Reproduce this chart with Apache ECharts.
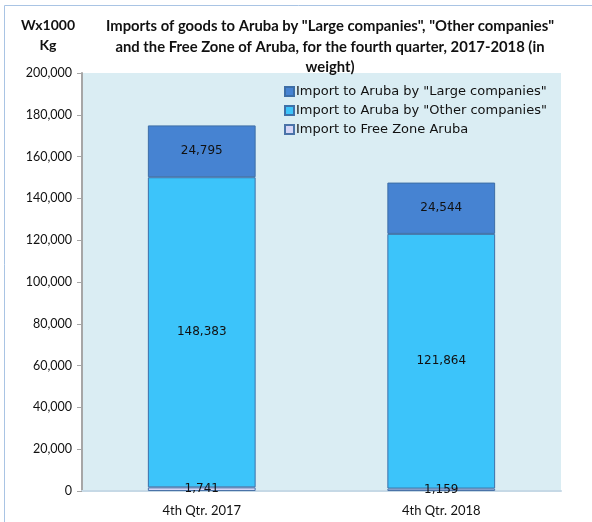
<!DOCTYPE html>
<html>
<head>
<meta charset="utf-8">
<script src="https://cdn.jsdelivr.net/npm/echarts@6/dist/echarts.min.js"></script>
<style>
  html, body { margin: 0; padding: 0; background: #fff; }
  #chart { width: 592px; height: 522px; }
</style>
</head>
<body>
<div id="chart"></div>
<script>
// data
var categories = ['4th Qtr. 2017', '4th Qtr. 2018']
var freeZone = [1741, 1159]
var otherCompanies = [148383, 121864]
var largeCompanies = [24795, 24544]
var seriesNames = [
  'Import to Aruba by "Large companies"',
  'Import to Aruba by "Other companies"',
  'Import to Free Zone Aruba'
]

var font = 'Lato, "Open Sans", sans-serif'
var wideFont = '"DejaVu Sans", Verdana, sans-serif'
var fmt = function(v) { return v.toLocaleString('en-US') }

var chart = echarts.init(document.getElementById('chart'))

function barSeries(name, data, color, border) {
  return {
    name: name,
    type: 'bar',
    stack: 'total',
    data: data,
    barWidth: '45%',
    itemStyle: { color: color, borderColor: border, borderWidth: 1 },
    label: {
      show: true,
      position: 'inside',
      color: '#111',
      fontFamily: wideFont,
      fontSize: 12,
      formatter: function(p) { return fmt(p.value) }
    }
  }
}

chart.setOption({
  animation: false,
  textStyle: { fontFamily: font },
  graphic: [{
    type: 'rect',
    shape: { x: 4.5, y: 5.5, width: 700, height: 600 },
    style: { fill: 'none', stroke: '#a9c4e4', lineWidth: 1 },
    z: -10
  }, {
    type: 'text',
    x: 48,
    y: 15,
    style: {
      text: 'Wx1000\nKg',
      font: 'bold 14px ' + font,
      fill: '#111',
      align: 'center',
      lineHeight: 20
    }
  }],
  title: {
    text: 'Imports of goods to Aruba by "Large companies", "Other companies"\nand the Free Zone of Aruba, for the fourth quarter, 2017-2018 (in\nweight)',
    left: 325,
    textAlign: 'center',
    top: 11,
    textStyle: { fontFamily: font, fontSize: 14.8, fontWeight: 'bold', color: '#111', lineHeight: 20.5 }
  },
  legend: {
    orient: 'vertical',
    left: 279,
    top: 80,
    itemWidth: 9,
    itemHeight: 9,
    itemGap: 6,
    icon: 'rect',
    data: seriesNames,
    textStyle: { fontFamily: wideFont, fontSize: 13, color: '#111', padding: [0, 0, 0, -3] }
  },
  grid: {
    left: 82,
    right: 31,
    top: 73,
    bottom: 31,
    show: true,
    backgroundColor: '#daedf3',
    borderWidth: 0
  },
  xAxis: {
    type: 'category',
    data: categories,
    axisLine: { lineStyle: { color: '#c6d9e6', width: 2 } },
    axisTick: { show: false },
    axisLabel: { color: '#111', fontFamily: font, fontSize: 13, margin: 13 }
  },
  yAxis: {
    type: 'value',
    min: 0,
    max: 200000,
    interval: 20000,
    splitLine: { show: false },
    axisLine: { show: true, lineStyle: { color: '#a6a6a6', width: 2 } },
    axisTick: { show: true, length: 5, lineStyle: { color: '#a6a6a6' } },
    axisLabel: { color: '#111', fontFamily: font, fontSize: 12.5, margin: 10, formatter: fmt }
  },
  series: [
    barSeries(seriesNames[2], freeZone, '#d6d6f6', '#4a73a8'),
    barSeries(seriesNames[1], otherCompanies, '#3cc4fa', '#3d70a8'),
    barSeries(seriesNames[0], largeCompanies, '#4683d2', '#3d6ea6')
  ]
})
</script>
</body>
</html>
